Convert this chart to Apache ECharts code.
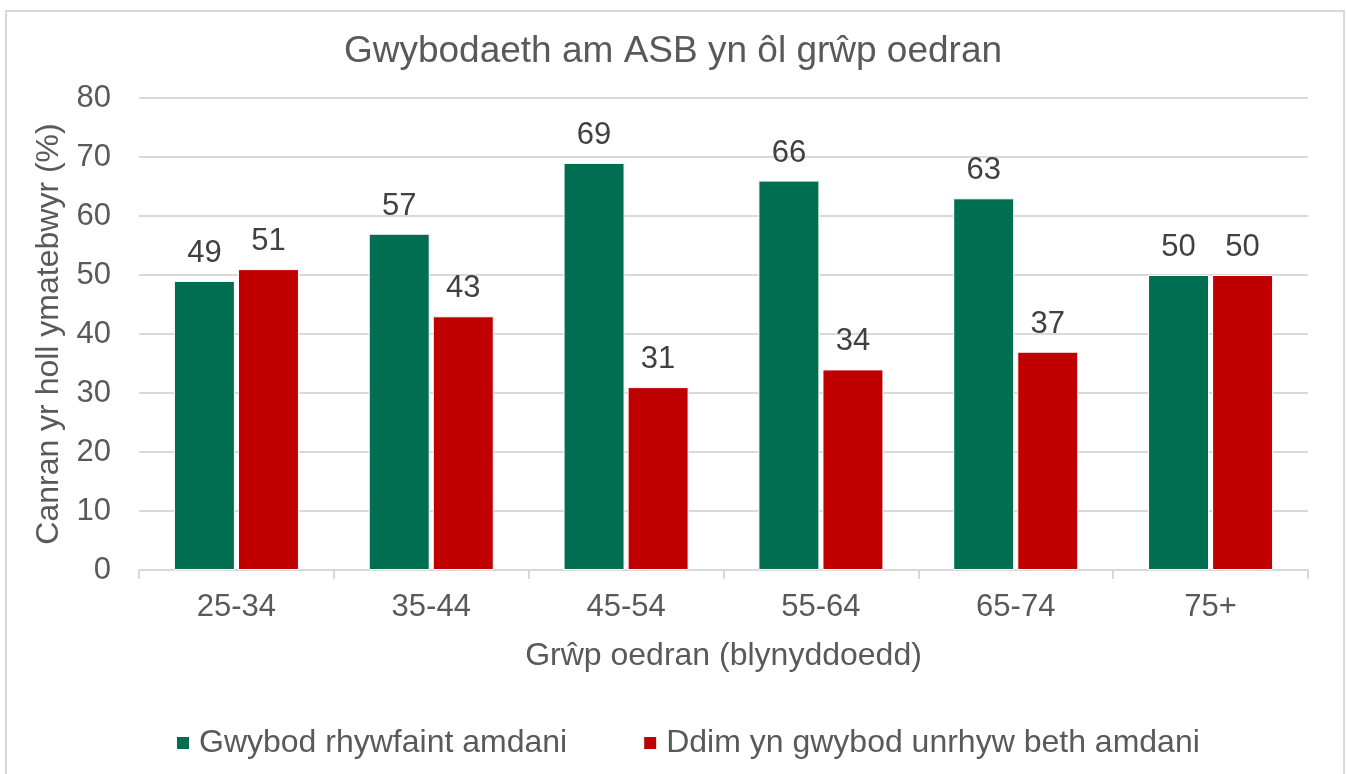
<!DOCTYPE html>
<html>
<head>
<meta charset="utf-8">
<script src="https://cdn.jsdelivr.net/npm/echarts@6/dist/echarts.min.js"></script>
<style>
  html, body { margin: 0; padding: 0; background: #fff; }
  #chart { width: 1346px; height: 774px; }
</style>
</head>
<body>
<div id="chart"></div>
<script>
  // data
  const categories = ['25-34', '35-44', '45-54', '55-64', '65-74', '75+'];
  const gwybod = [49, 57, 69, 66, 63, 50];
  const ddim = [51, 43, 31, 34, 37, 50];
  const seriesNames = ['Gwybod rhywfaint amdani', 'Ddim yn gwybod unrhyw beth amdani'];
  const yTicks = [0, 10, 20, 30, 40, 50, 60, 70, 80];

  const font = '"Liberation Sans", Arial, sans-serif';
  const chart = echarts.init(document.getElementById('chart'));

  const labelOpt = {
    show: true,
    position: 'top',
    distance: 12,
    color: '#404040',
    fontSize: 31,
    fontFamily: font
  };

  // square marker with some empty room on its right (gap before the text)
  const legendIcon = 'path://M0,0L12,0L12,12L0,12Z M17,6L17,6.01';

  const option = {
    backgroundColor: '#fff',
    animation: false,
    graphic: [{
      type: 'rect',
      shape: { x: 6, y: 11, width: 1338, height: 800 },
      style: { fill: 'none', stroke: '#d9d9d9', lineWidth: 2 },
      silent: true
    }],
    title: {
      text: 'Gwybodaeth am ASB yn ôl grŵp oedran',
      left: 'center',
      top: 28,
      textStyle: { color: '#595959', fontSize: 37, fontWeight: 'normal', fontFamily: font }
    },
    legend: {
      data: seriesNames,
      left: 172,
      top: 722,
      icon: legendIcon,
      itemWidth: 17,
      itemHeight: 12,
      itemGap: 77,
      itemStyle: { borderWidth: 0 },
      textStyle: { color: '#595959', fontSize: 32, fontFamily: font }
    },
    grid: { left: 139, right: 38, top: 98, bottom: 204 },
    xAxis: {
      type: 'category',
      data: categories,
      name: 'Grŵp oedran (blynyddoedd)',
      nameLocation: 'middle',
      nameGap: 70,
      nameTextStyle: { color: '#595959', fontSize: 32, fontFamily: font },
      axisLine: { lineStyle: { color: '#d9d9d9', width: 2 } },
      axisTick: { show: true, length: 9, lineStyle: { color: '#d9d9d9', width: 2 } },
      axisLabel: { color: '#595959', fontSize: 31, fontFamily: font, margin: 22 }
    },
    yAxis: {
      type: 'value',
      min: yTicks[0],
      max: yTicks[yTicks.length - 1],
      interval: 10,
      name: 'Canran yr holl ymatebwyr (%)',
      nameLocation: 'middle',
      nameGap: 68,
      nameTextStyle: { color: '#595959', fontSize: 32, fontFamily: font },
      axisLine: { show: false },
      axisTick: { show: false },
      axisLabel: { color: '#595959', fontSize: 31, fontFamily: font, margin: 28 },
      splitLine: { lineStyle: { color: '#d9d9d9', width: 2 } }
    },
    series: [
      {
        name: seriesNames[0],
        type: 'bar',
        data: gwybod,
        barWidth: 61,
        barGap: '5%',
        itemStyle: { color: '#006F51', borderColor: '#fff', borderWidth: 1 },
        label: labelOpt
      },
      {
        name: seriesNames[1],
        type: 'bar',
        data: ddim,
        barWidth: 61,
        barGap: '5%',
        itemStyle: { color: '#C00000', borderColor: '#fff', borderWidth: 1 },
        label: labelOpt
      }
    ]
  };

  chart.setOption(option);
</script>
</body>
</html>
